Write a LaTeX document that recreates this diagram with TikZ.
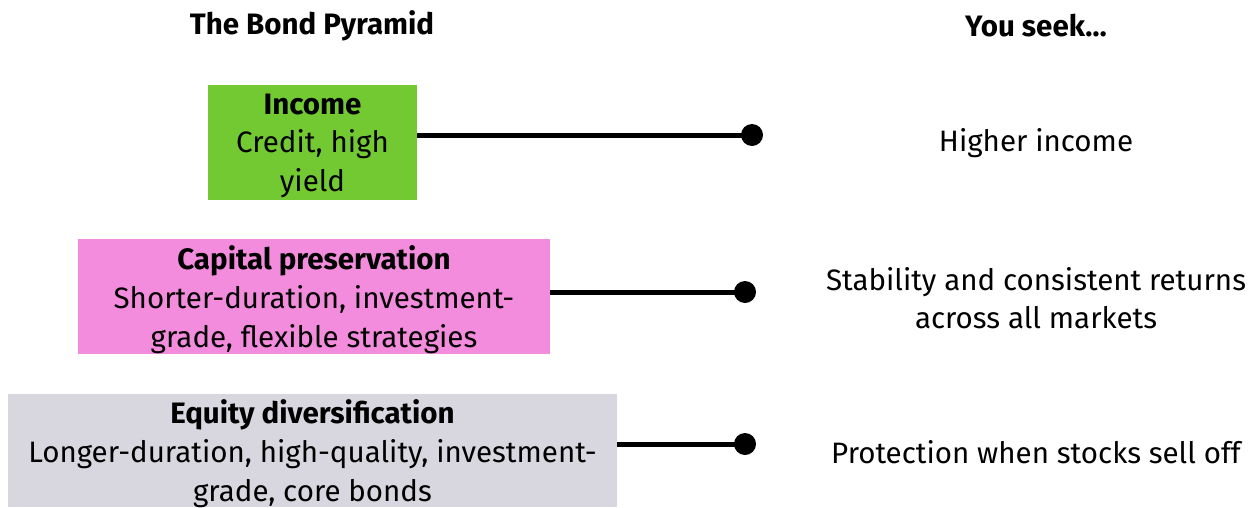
\documentclass[tikz,border=0pt]{standalone}
\usepackage{fontspec}
\setmainfont{Fira Sans}
\usepackage{tikz}
\definecolor{incgreen}{HTML}{72C932}
\definecolor{cappink}{HTML}{F48CDD}
\definecolor{eqgray}{HTML}{D8D7DF}

\begin{document}
\begin{tikzpicture}[x=0.02cm, y=-0.02cm,
    font=\fontsize{16.8pt}{22pt}\selectfont,
    box/.style={inner sep=0pt, align=center, text depth=-2*0.02cm},
    dot/.style={circle, fill=black, inner sep=0pt, minimum size=22*0.02cm},
    link/.style={line width=5*0.02cm}]
    \useasboundingbox (0, 0) rectangle (1250, 507);

    \node (title) at (312, 26) {\textbf{The Bond Pyramid}};
    \node (seek) at (1036, 26) {\textbf{You seek\dots}};

    \node (income) [box, fill=incgreen, minimum width=209*0.02cm, minimum height=115*0.02cm]
        at (312.5, 142.5) {\textbf{Income}\\Credit, high\\yield};
    \node (capital) [box, fill=cappink, minimum width=472*0.02cm, minimum height=115*0.02cm]
        at (314, 296.5) {\textbf{Capital preservation}\\Shorter-duration, investment-\\grade, flexible strategies};
    \node (equity) [box, fill=eqgray, minimum width=609*0.02cm, minimum height=113*0.02cm]
        at (312.5, 450.5) {\textbf{Equity diversification}\\Longer-duration, high-quality, investment-\\grade, core bonds};

    \node (d1) [dot] at (752, 135) {};
    \node (d2) [dot] at (745, 292) {};
    \node (d3) [dot] at (745, 444) {};

    \draw[link] (income.east |- d1) -- (d1.center);
    \draw[link] (capital.east |- d2) -- (d2.center);
    \draw[link] (equity.east |- d3) -- (d3.center);

    \node (higher) at (1036, 143) {Higher income};
    \node (stable) [align=center] at (1036, 298) {Stability and consistent returns\\across all markets};
    \node (protect) at (1036, 452) {Protection when stocks sell off};
\end{tikzpicture}
\end{document}
